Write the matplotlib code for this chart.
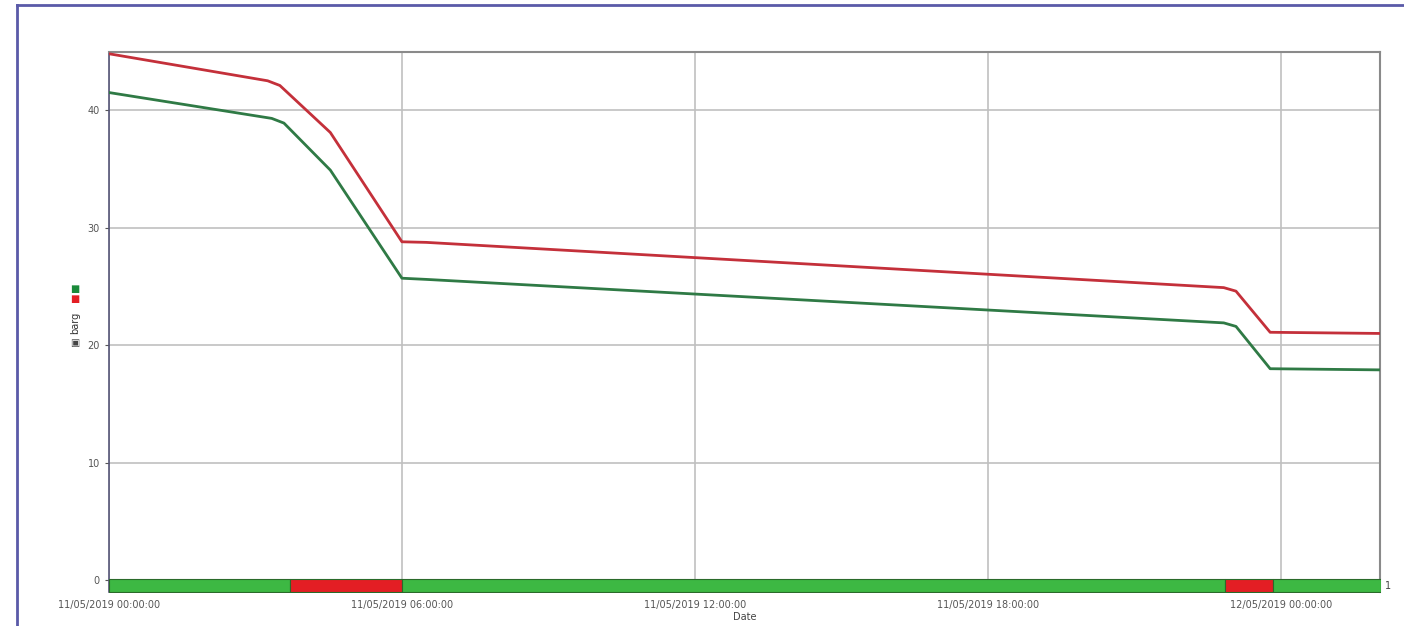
import numpy as np
import matplotlib
matplotlib.use("Agg")
import matplotlib.pyplot as plt
import matplotlib.dates as mdates
from matplotlib.lines import Line2D
import pandas as pd

# pressure traces (barg)
red_t = ["2019-05-11 00:00", "2019-05-11 03:15", "2019-05-11 03:30", "2019-05-11 04:32",
         "2019-05-11 06:00", "2019-05-11 06:30", "2019-05-11 22:50", "2019-05-11 23:05",
         "2019-05-11 23:47", "2019-05-12 02:03"]
red_v = [44.8, 42.5, 42.1, 38.1, 28.8, 28.75, 24.9, 24.6, 21.1, 21.0]
green_t = ["2019-05-11 00:00", "2019-05-11 03:20", "2019-05-11 03:35", "2019-05-11 04:32",
           "2019-05-11 06:00", "2019-05-11 06:30", "2019-05-11 22:50", "2019-05-11 23:05",
           "2019-05-11 23:47", "2019-05-12 02:03"]
green_v = [41.5, 39.3, 38.9, 34.9, 25.7, 25.6, 21.9, 21.6, 18.0, 17.9]

# status bar segments
state_start = ["2019-05-11 00:00", "2019-05-11 03:42", "2019-05-11 06:00",
               "2019-05-11 22:51", "2019-05-11 23:51"]
state_end = ["2019-05-11 03:42", "2019-05-11 06:00", "2019-05-11 22:51",
             "2019-05-11 23:51", "2019-05-12 02:03"]
state_col = ["#3db843", "#e31e24", "#3db843", "#e31e24", "#3db843"]

yticks = [0, 10, 20, 30, 40]
xticks = ["2019-05-11 00:00", "2019-05-11 06:00", "2019-05-11 12:00",
          "2019-05-11 18:00", "2019-05-12 00:00"]

fig = plt.figure(figsize=(14.04, 6.26), dpi=100)
ax = fig.add_axes([109/1404, 1 - 592/626, (1380 - 109)/1404, (592 - 52)/626])

rt = mdates.date2num(pd.to_datetime(red_t))
gt = mdates.date2num(pd.to_datetime(green_t))
ax.plot(rt, red_v, color="#c4303a", lw=2.0, zorder=3)
ax.plot(gt, green_v, color="#2f7a45", lw=2.0, zorder=3)

s0 = mdates.date2num(pd.to_datetime(state_start))
s1 = mdates.date2num(pd.to_datetime(state_end))
for a, b, c in zip(s0, s1, state_col):
    ax.broken_barh([(a, b - a)], (-1.0, 1.1), facecolors=c, edgecolor="#2a6a2a",
                   lw=0.8, zorder=4)

x0 = mdates.date2num(pd.Timestamp("2019-05-11 00:00"))
x1 = mdates.date2num(pd.Timestamp("2019-05-12 02:02"))
ax.set_xlim(x0, x1)
ax.set_ylim(-1.0, 44.95)

ax.set_yticks(yticks)
ax.set_xticks(mdates.date2num(pd.to_datetime(xticks)))
ax.xaxis.set_major_formatter(mdates.DateFormatter("%d/%m/%Y %H:%M:%S"))
ax.tick_params(axis="both", labelsize=7, colors="#555555", length=3, width=0.8)
ax.tick_params(axis="x", length=0, pad=6)
ax.grid(True, color="#c0c0c0", lw=1.2)
ax.set_axisbelow(True)

for s in ["top", "right"]:
    ax.spines[s].set_color("#8a8a8a")
    ax.spines[s].set_linewidth(1.5)
ax.spines["left"].set_color("#555577")
ax.spines["left"].set_linewidth(1.2)
ax.spines["bottom"].set_visible(False)

ax.set_xlabel("Date", fontsize=7, color="#444444", labelpad=1)
ax.text(1.004, 0.012, "1", transform=ax.transAxes, fontsize=7, color="#444444",
        va="center", ha="left")

# y axis label with series swatches
fig.text(75/1404, 1 - 323/626, "barg", rotation=90, fontsize=7, color="#333333",
         ha="center", va="center")
fig.text(75/1404, 1 - 343/626, "\u25a3", fontsize=7, color="#444444", ha="center", va="center")
fig.text(75/1404, 1 - 289/626, "\u25a0", fontsize=7, color="#1a8a3a", ha="center", va="center")
fig.text(75/1404, 1 - 299/626, "\u25a0", fontsize=7, color="#e31e24", ha="center", va="center")

# outer frame
fig.add_artist(Line2D([17/1404, 17/1404], [0, 1 - 5/626], color="#5a5aa8", lw=2))
fig.add_artist(Line2D([17/1404, 1], [1 - 5/626, 1 - 5/626], color="#5a5aa8", lw=2))

fig.savefig("out.png", dpi=100)
